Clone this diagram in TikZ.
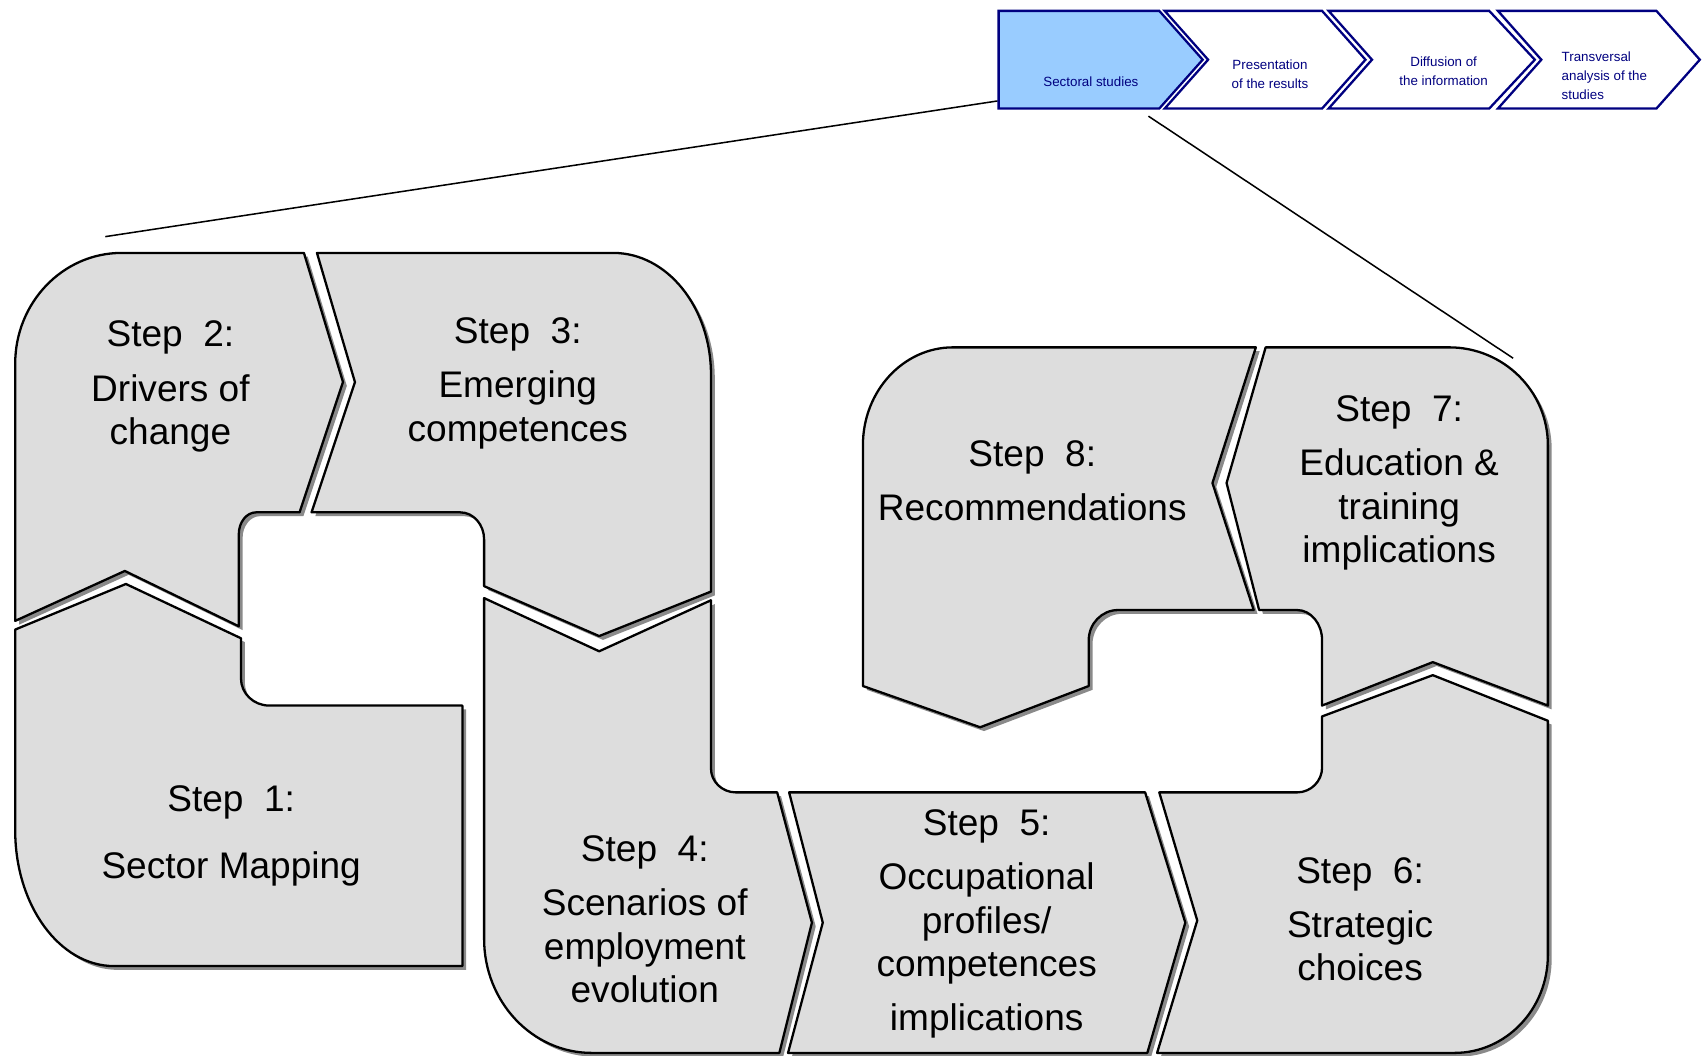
\documentclass[tikz,border=0pt]{standalone}
\usepackage{fontspec}
\setmainfont{Liberation Sans}
\usetikzlibrary{shadows}
\definecolor{stepgray}{HTML}{DDDDDD}
\definecolor{shadowgray}{HTML}{8A8A8A}
\definecolor{navyblue}{HTML}{000080}
\definecolor{skyblue}{HTML}{99CCFF}
\begin{document}
\begin{tikzpicture}[x=0.01cm,y=-0.01cm,
  piece/.style={fill=stepgray, draw=black, line width=0.6pt, line join=round,
    drop shadow={shadow xshift=1pt, shadow yshift=-1pt, fill=shadowgray, opacity=1}},
  phase/.style={draw=navyblue, line width=0.6pt, line join=miter},
  steptext/.style={font=\fontsize{9.7}{11.4}\selectfont, align=center, inner sep=0pt, text=black, anchor=north},
  phasetext/.style={font=\fontsize{3.5}{5}\selectfont, align=center, inner sep=0pt, text=navyblue},
  link/.style={draw=black, line width=0.4pt}]
\useasboundingbox (0,0) rectangle (1568,972);

% connectors
\coordinate (secA) at (919,93);
\coordinate (secB) at (1058,107);
\coordinate (s2top) at (97,218);
\coordinate (s7top) at (1394,330);
\draw[link] (secA) -- (s2top);
\draw[link] (secB) -- (s7top);

% phase chevrons
\path[phase, fill=skyblue] (920,10) -- (1068,10) -- (1108,55) -- (1068,100) -- (920,100) -- cycle;
\path[phase, fill=white] (1073,10) -- (1218,10) -- (1258,55) -- (1218,100) -- (1073,100) -- (1113,55) -- cycle;
\path[phase, fill=white] (1224,10) -- (1372,10) -- (1414,55) -- (1372,100) -- (1224,100) -- (1264,55) -- cycle;
\path[phase, fill=white] (1380,10) -- (1526,10) -- (1566,55) -- (1526,100) -- (1380,100) -- (1420,55) -- cycle;

\node[phasetext] (p1) at (1005,75) {Sectoral studies};
\node[phasetext] (p2) at (1170,68.5) {Presentation\\of the results};
\node[phasetext] (p3) at (1330,66) {Diffusion of\\the information};
\node[phasetext, align=left, anchor=west] (p4) at (1438,70) {Transversal\\analysis of the\\studies};

% Step 2
\path[piece] (112,233) -- (280,233) -- (316,352) -- (276,472) -- (236,472)
  .. controls (227.2,472) and (220,481) .. (220,492) -- (220,577) -- (115,526) -- (14,572) -- (14,335)
  .. controls (14,278.7) and (57.9,233) .. (112,233) -- cycle;
% Step 1
\path[piece] (14,580) -- (116,538) -- (222,588) -- (222,625)
  .. controls (222,638.8) and (233.6,650) .. (248,650) -- (426,650) -- (426,890) -- (105,890)
  .. controls (54.8,890) and (14,834) .. (14,765) -- cycle;
% Step 3
\path[piece] (292,233) -- (565,233) .. controls (614.7,233) and (655,283.2) .. (655,345)
  -- (655,545) -- (552,586) -- (446,540) -- (446,497)
  .. controls (446,483.2) and (436.1,472) .. (424,472) -- (287,472) -- (327,352) -- cycle;
% Step 4
\path[piece] (446,551) -- (552,600) -- (655,553) -- (655,708)
  .. controls (655,720.1) and (665.3,730) .. (678,730) -- (716,730) -- (748,850) -- (718,970) -- (545,970)
  .. controls (490.4,970) and (446,923) .. (446,865) -- cycle;
% Step 5
\path[piece] (727,730) -- (1055,730) -- (1092,850) -- (1057,970) -- (726,970) -- (758,850) -- cycle;
% Step 6
\path[piece] (1068,730) -- (1195,730) .. controls (1207.7,730) and (1218,719.7) .. (1218,707)
  -- (1218,660) -- (1320,622) -- (1426,664) -- (1426,880)
  .. controls (1426,929.7) and (1387.5,970) .. (1340,970) -- (1066,970) -- (1103,848) -- cycle;
% Step 7
\path[piece] (1166,320) -- (1335,320) .. controls (1385.2,320) and (1426,360.3) .. (1426,410)
  -- (1426,650) -- (1320,610) -- (1218,650) -- (1218,590)
  .. controls (1218,574.5) and (1207.7,562) .. (1195,562) -- (1160,562) -- (1130,445) -- cycle;
% Step 8
\path[piece] (1157,320) -- (1117,445) -- (1155,562) -- (1030,562)
  .. controls (1015.1,562) and (1003,574.5) .. (1003,590) -- (1003,632) -- (903,670) -- (795,632) -- (795,410)
  .. controls (795,360.3) and (832.2,320) .. (878,320) -- cycle;

% step texts
\node[steptext] (t2) at (157,295) {Step~ 2:\\[2.8pt]Drivers of\\change};
\node[steptext] (t3) at (477,292) {Step~ 3:\\[2.8pt]Emerging\\competences};
\node[steptext] (t1) at (213,723) {Step~ 1:\\[6.2pt]Sector Mapping};
\node[steptext] (t4) at (594,769) {Step~ 4:\\[2.8pt]Scenarios of\\employment\\evolution};
\node[steptext] (t5) at (909,745) {Step~ 5:\\[2.8pt]Occupational\\profiles/\\competences\\[2.8pt]implications};
\node[steptext] (t6) at (1253,789) {Step~ 6:\\[2.8pt]Strategic\\choices};
\node[steptext] (t7) at (1289,364) {Step~ 7:\\[2.8pt]Education \&\\training\\implications};
\node[steptext] (t8) at (951,405) {Step~ 8:\\[2.8pt]Recommendations};
\end{tikzpicture}
\end{document}
